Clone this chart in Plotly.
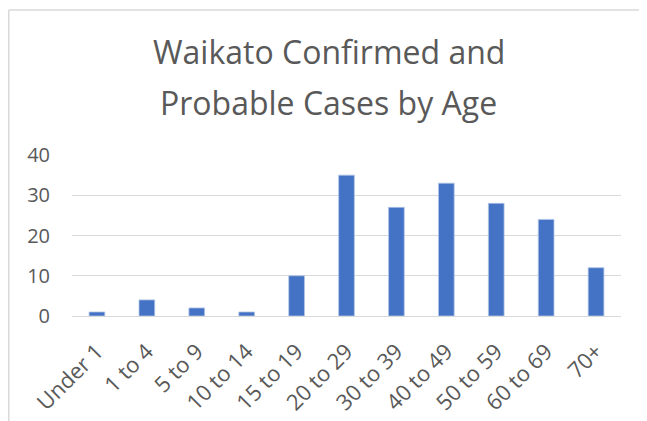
import plotly.graph_objects as go

age_groups = ["Under 1", "1 to 4", "5 to 9", "10 to 14", "15 to 19", "20 to 29",
              "30 to 39", "40 to 49", "50 to 59", "60 to 69", "70+"]
cases = [1, 4, 2, 1, 10, 35, 27, 33, 28, 24, 12]

title_lines = ["Waikato Confirmed and", "Probable Cases by Age"]

FONT = "Open Sans, Lato, sans-serif"
GREY = "#595959"

fig = go.Figure(go.Bar(x=age_groups, y=cases,
                       marker=dict(color="#4472C4", line=dict(color="#B4C7E7", width=0.8))))

# the page body has an 8px margin, so the figure is 8px smaller than the window
fig.update_layout(
    width=639, height=413,
    paper_bgcolor="white", plot_bgcolor="white",
    margin=dict(l=64, r=26, t=147, b=105),
    bargap=0.685,
    showlegend=False,
    font=dict(family=FONT, color=GREY),
)

# two-line title, done as annotations to get Excel-like line spacing
for line, ypos in zip(title_lines, [1.64, 1.329]):
    fig.add_annotation(text=line, xref="paper", yref="paper", x=0.468, y=ypos,
                       xanchor="center", yanchor="middle", showarrow=False,
                       font=dict(size=32, color=GREY, family=FONT))

fig.update_yaxes(range=[0, 40], dtick=10, showgrid=True, gridcolor="#D9D9D9", gridwidth=1,
                 zeroline=False, showline=False, tickfont=dict(size=20), ticks="",
                 ticklabelstandoff=21, automargin=False, fixedrange=True)
fig.update_xaxes(tickangle=-45, tickfont=dict(size=22), showline=True, linecolor="#D9D9D9",
                 linewidth=1, ticks="", ticklabelstandoff=13, automargin=False, fixedrange=True)

# chart area border (left and top only visible in the crop)
fig.add_shape(type="line", xref="paper", yref="paper", x0=-0.1152, x1=1.1, y0=1.9006, y1=1.9006,
              line=dict(color="#D9D9D9", width=1.5))
fig.add_shape(type="line", xref="paper", yref="paper", x0=-0.1152, x1=-0.1152, y0=1.9006, y1=-0.7,
              line=dict(color="#D9D9D9", width=1.5))

fig.write_html("out.html")
